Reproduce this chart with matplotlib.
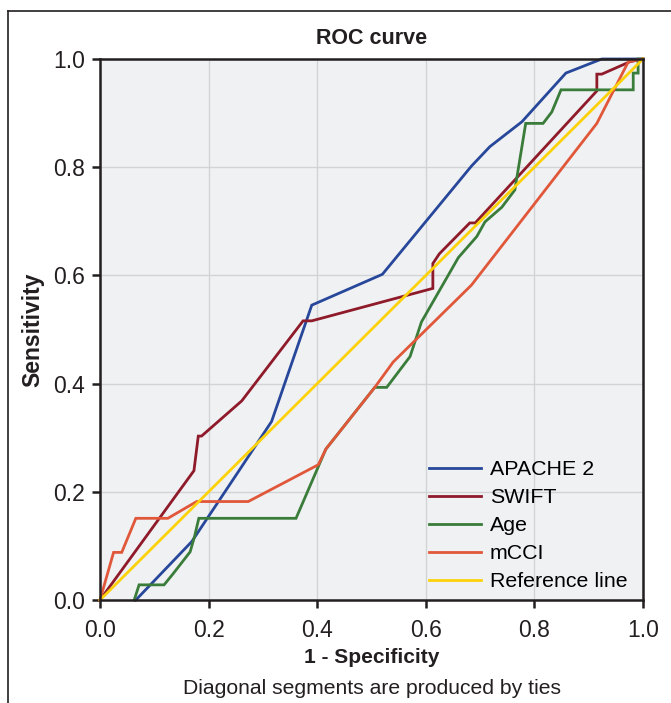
import matplotlib
matplotlib.use("Agg")
import matplotlib.pyplot as plt
from matplotlib.lines import Line2D

plt.rcParams["font.family"] = ["Liberation Sans", "DejaVu Sans"]

# ROC curves (x = 1 - specificity, y = sensitivity)
apache_x = [0.066, 0.169, 0.252, 0.316, 0.39, 0.52, 0.684, 0.718, 0.777, 0.858, 0.924, 1.0]
apache_y = [0.0, 0.108, 0.233, 0.33, 0.545, 0.602, 0.802, 0.838, 0.884, 0.974, 1.0, 1.0]

swift_x = [0.0, 0.173, 0.181, 0.187, 0.261, 0.374, 0.39, 0.613, 0.613, 0.625, 0.681, 0.691,
           0.915, 0.915, 0.924, 0.976, 1.0]
swift_y = [0.0, 0.239, 0.303, 0.303, 0.368, 0.516, 0.516, 0.576, 0.622, 0.64, 0.697, 0.697,
           0.941, 0.972, 0.972, 0.995, 1.0]

age_x = [0.063, 0.072, 0.118, 0.135, 0.166, 0.174, 0.182, 0.361, 0.416, 0.506, 0.528, 0.571,
         0.592, 0.66, 0.694, 0.709, 0.74, 0.764, 0.784, 0.816, 0.832, 0.849, 0.982, 0.982,
         0.991, 0.991, 1.0]
age_y = [0.0, 0.028, 0.028, 0.049, 0.089, 0.117, 0.151, 0.151, 0.279, 0.393, 0.393, 0.45,
         0.514, 0.633, 0.672, 0.699, 0.726, 0.758, 0.881, 0.881, 0.902, 0.943, 0.943, 0.974,
         0.974, 1.0, 1.0]

mcci_x = [0.0, 0.025, 0.04, 0.066, 0.125, 0.178, 0.273, 0.402, 0.416, 0.506, 0.54, 0.684,
          0.915, 0.973, 1.0]
mcci_y = [0.0, 0.088, 0.088, 0.151, 0.151, 0.182, 0.182, 0.25, 0.279, 0.393, 0.44, 0.582,
          0.881, 0.995, 1.0]

ref_x = [0.0, 1.0]
ref_y = [0.0, 1.0]

series = [
    ("APACHE 2", apache_x, apache_y, "#27479a"),
    ("SWIFT", swift_x, swift_y, "#8e1a2a"),
    ("Age", age_x, age_y, "#3a7c3a"),
    ("mCCI", mcci_x, mcci_y, "#e0573a"),
    ("Reference line", ref_x, ref_y, "#fdd20a"),
]
ticks = [0.0, 0.2, 0.4, 0.6, 0.8, 1.0]

fig = plt.figure(figsize=(6.71, 7.03), dpi=100)
ax = fig.add_axes([100 / 671, 103 / 703, 543 / 671, 541 / 703])
ax.set_facecolor("#f0f1f3")

for name, xs, ys, col in series:
    ax.plot(xs, ys, color=col, lw=2.0, label=name, solid_joinstyle="miter", clip_on=False)

ax.set_xlim(0, 1); ax.set_ylim(0, 1)
ax.set_xticks(ticks); ax.set_yticks(ticks)
ax.set_xticklabels([f"{t:.1f}" for t in ticks]); ax.set_yticklabels([f"{t:.1f}" for t in ticks])
ax.grid(True, color="#d2d3d5", lw=1.0)
ax.set_axisbelow(True)
for s in ax.spines.values():
    s.set_linewidth(1.8); s.set_color("#231f20")
ax.tick_params(direction="out", length=6, width=1.8, color="#231f20", labelsize=16.5,
               labelcolor="#231f20")
ax.tick_params(axis="x", pad=8)
ax.tick_params(axis="y", pad=5)

ax.set_title("ROC curve", fontsize=15.5, fontweight="bold", pad=11, color="#231f20")
ax.set_xlabel("1 - Specificity", fontsize=15, fontweight="bold", labelpad=4, color="#231f20")
ax.set_ylabel("Sensitivity", fontsize=16.5, fontweight="bold", labelpad=6, color="#231f20")
fig.text(372 / 671, 1 - 688 / 703, "Diagonal segments are produced by ties", ha="center",
         va="center", fontsize=15.2, color="#231f20")

ax.legend(loc="lower left", bbox_to_anchor=(0.606, 0.016), frameon=False, fontsize=15.4,
          handlelength=2.45, handletextpad=0.4, labelspacing=0.42, borderpad=0, borderaxespad=0)

# partial frame around the figure (left and top edges)
fig.add_artist(Line2D([8 / 671, 8 / 671], [0, 1 - 11 / 703], transform=fig.transFigure,
                      color="#231f20", lw=1.2))
fig.add_artist(Line2D([8 / 671, 1], [1 - 11 / 703, 1 - 11 / 703], transform=fig.transFigure,
                      color="#231f20", lw=1.2))

fig.savefig("out.png", dpi=100)
